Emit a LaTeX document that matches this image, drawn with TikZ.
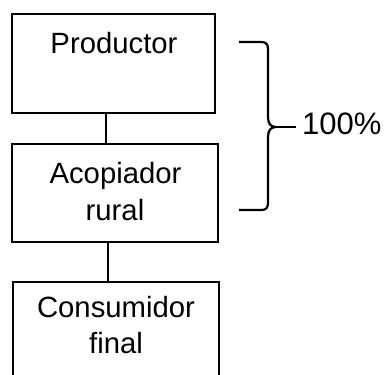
\documentclass[tikz,border=0pt]{standalone}
\usepackage{fontspec}
\setmainfont{Liberation Sans}
\begin{document}
\begin{tikzpicture}[x=1pt,y=-1pt,
  boxstyle/.style={draw=black,line width=2.6pt,rectangle,inner sep=0pt},
  lbl/.style={anchor=base,inner sep=0pt,font=\fontsize{29.3}{35}\selectfont},
  conn/.style={line width=2.2pt},
  bracestyle/.style={line width=2.2pt,line join=round}]
\clip (0,0) rectangle (384,375);
\fill[white] (0,0) rectangle (384,375);
% boxes
\node[boxstyle,minimum width=203pt,minimum height=99pt] (p) at (113.5,63.5) {};
\node[boxstyle,minimum width=206pt,minimum height=98pt] (a) at (115,193) {};
\node[boxstyle,minimum width=206pt,minimum height=150pt] (c) at (116,357) {};
% labels
\node[lbl] (t1) at (114,53) {Productor};
\node[lbl] (t2) at (115.5,183) {Acopiador};
\node[lbl] (t3) at (115,220) {rural};
\node[lbl] (t4) at (116,317) {Consumidor};
\node[lbl] (t5) at (116,353) {final};
% connectors
\draw[conn] (106,0 |- p.south) -- (106,0 |- a.north);
\draw[conn] (108,0 |- a.south) -- (108,0 |- c.north);
% brace
\coordinate (tip) at (276,127);
\coordinate (tick) at (296,127);
\draw[bracestyle] (239,42) -- (261,42) .. controls (266,42) and (268,44) .. (268,49)
  -- (268,117) .. controls (268,124) and (271,127) .. (tip)
  .. controls (271,127) and (268,130) .. (268,137)
  -- (268,203) .. controls (268,208) and (266,210) .. (261,210) -- (239,210);
\draw[bracestyle] (tip) -- (tick);
\node[anchor=base west,inner sep=0pt,font=\fontsize{31}{37}\selectfont] (pct) at (302,134) {100\%};
\end{tikzpicture}
\end{document}
